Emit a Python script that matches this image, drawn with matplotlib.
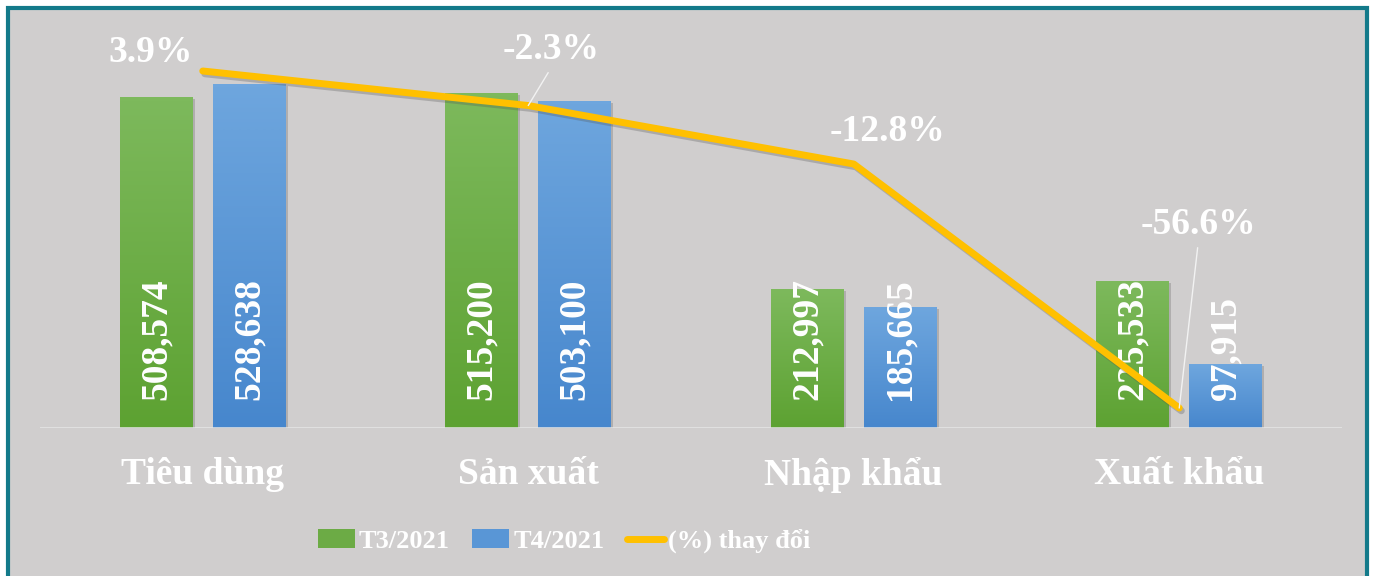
import matplotlib
matplotlib.use('Agg')
import matplotlib.pyplot as plt
import numpy as np
from matplotlib.colors import LinearSegmentedColormap
import matplotlib.patheffects as pe
from matplotlib.patches import Rectangle, Patch
from matplotlib.lines import Line2D

categories = ['Tiêu dùng', 'Sản xuất', 'Nhập khẩu', 'Xuất khẩu']
t3 = [508574, 515200, 212997, 225533]
t4 = [528638, 503100, 185665, 97915]
pct = [3.9, -2.3, -12.8, -56.6]
series_names = ['T3/2021', 'T4/2021', '(%) thay đổi']

W, H = 1375, 576
fig = plt.figure(figsize=(W / 100, H / 100), dpi=100)
fig.patch.set_facecolor('white')


def fx(px):
    return px / W


def fy(py):
    return 1 - py / H


SERIF = 'Liberation Serif'

bg = Rectangle((fx(8), fy(582)), fx(1367) - fx(8), fy(7.5) - fy(582),
               transform=fig.transFigure, facecolor='#d0cece',
               edgecolor='#137a8a', linewidth=3, zorder=-10)
fig.patches.append(bg)

ax = fig.add_axes([fx(40), fy(428), fx(1342) - fx(40), fy(30) - fy(428)])
ax.set_facecolor('none')
x = np.arange(len(categories))
w = 0.224
off = 0.143
b1 = ax.bar(x - off, t3, w, color='#6cab45', zorder=2)
b2 = ax.bar(x + off, t4, w, color='#5996d6', zorder=2)

grad = np.linspace(0, 1, 64).reshape(-1, 1)
for bars, (ctop, cbot) in [(b1, ('#7db95c', '#5da232')), (b2, ('#6ea6de', '#4787cd'))]:
    cmap = LinearSegmentedColormap.from_list('g', [cbot, ctop])
    for r in bars:
        r.set_path_effects([pe.SimplePatchShadow(offset=(1.5, -1.5), shadow_rgbFace='#666666', alpha=0.3),
                            pe.Normal()])
        im = ax.imshow(grad, cmap=cmap, origin='lower', aspect='auto',
                       extent=[r.get_x(), r.get_x() + r.get_width(), 0, r.get_height()],
                       zorder=2.1, interpolation='bilinear')
        im.set_clip_path(r)

ax.set_xlim(-0.5, 3.5)
ax.set_ylim(0, 611600)
ax.axhline(0, color='#e6e6e6', lw=1.8, zorder=3)
for s in ax.spines.values():
    s.set_visible(False)
ax.set_yticks([])
ax.set_xticks(x)
ax.set_xticklabels(categories, fontsize=27, fontweight='bold', color='white', family=SERIF)
ax.tick_params(axis='x', length=0, pad=21)

for bars, vals in ((b1, t3), (b2, t4)):
    for r, v in zip(bars, vals):
        ax.annotate(f'{v:,}', (r.get_x() + r.get_width() / 2, 0), xytext=(0, 20),
                    textcoords='offset points', rotation=90, ha='center', va='bottom',
                    fontsize=27, fontweight='bold', color='white', family=SERIF, zorder=5)

ax2 = ax.twinx()
ax2.set_ylim(-60.19, 11.26)
for s in ax2.spines.values():
    s.set_visible(False)
ax2.set_yticks([])
ax2.plot(x, pct, color='#ffc000', lw=5, solid_capstyle='round', solid_joinstyle='round',
         path_effects=[pe.SimpleLineShadow(offset=(1.5, -2), shadow_color='#555555', alpha=0.3),
                       pe.Normal()], zorder=3)

offsets = [(-37.4, 13.5), (16.6, 40), (24.5, 23.5), (13.7, 132)]
leaders = [False, True, False, True]
for i, p in enumerate(pct):
    ap = None
    if leaders[i]:
        ap = dict(arrowstyle='-', color='#f2f2f2', lw=1, shrinkA=2, shrinkB=0, relpos=(0.5, 0))
    ax2.annotate(f'{p:.1f}%', (x[i], p), xytext=offsets[i], textcoords='offset points',
                 ha='center', va='center', fontsize=27, fontweight='bold', color='white',
                 family=SERIF, arrowprops=ap, zorder=6)

handles = [Patch(facecolor='#6cab45'), Patch(facecolor='#5996d6'),
           Line2D([], [], color='#ffc000', lw=5, solid_capstyle='round')]
fig.legend(handles, series_names, loc='center left', bbox_to_anchor=(fx(318), fy(541)),
           ncol=3, frameon=False, prop=dict(family=SERIF, weight='bold', size=19),
           labelcolor='white', handlelength=1.4, handleheight=0.7, handletextpad=0.15,
           columnspacing=0.85, borderpad=0, borderaxespad=0)

fig.savefig('out.png', dpi=100)
